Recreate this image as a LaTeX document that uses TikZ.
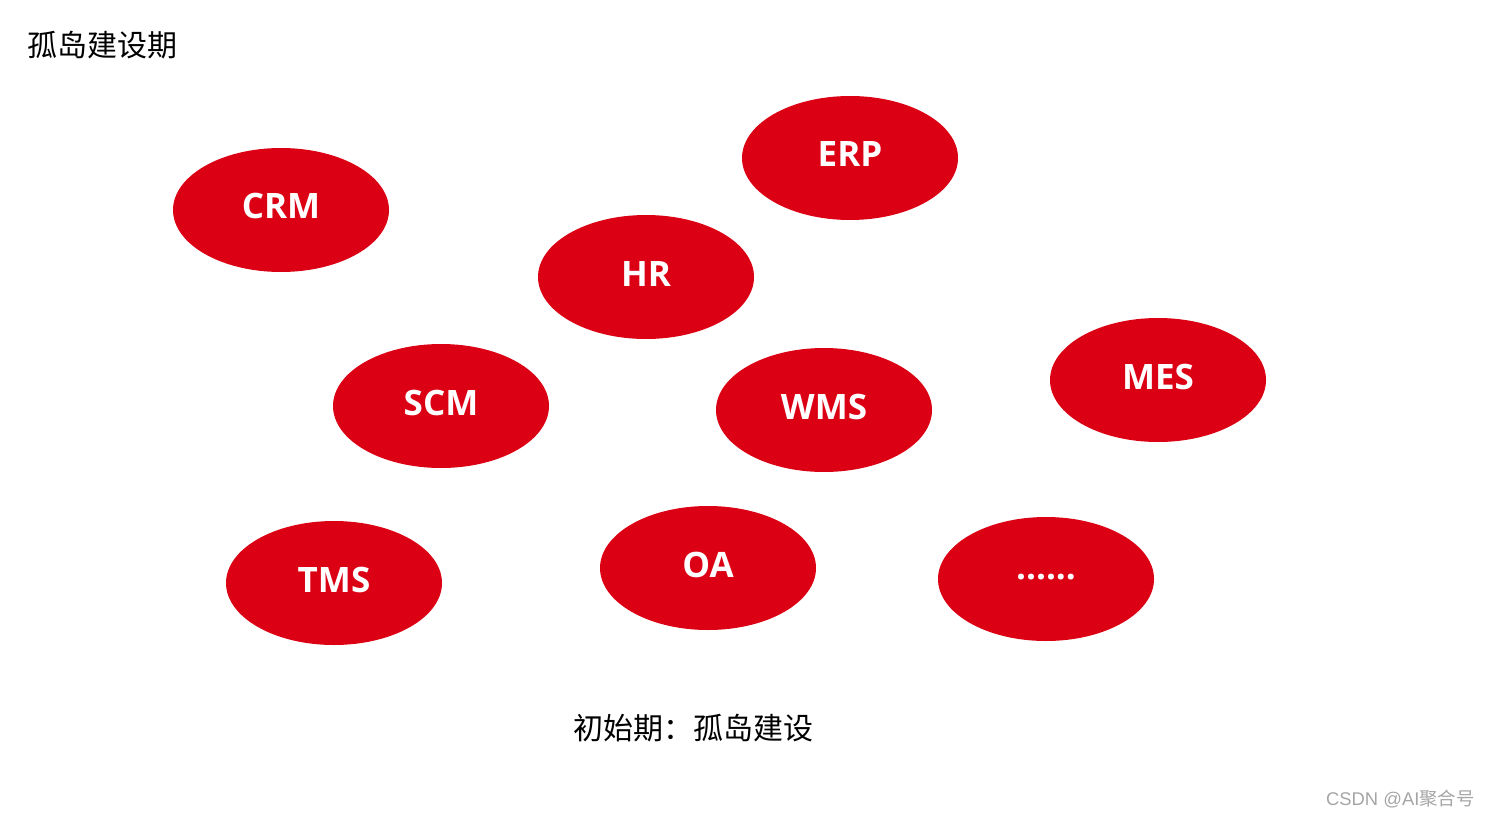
\documentclass[tikz,border=0pt]{standalone}
\usepackage{fontspec}
\setmainfont{Open Sans}
\newfontfamily\cjk{Noto Sans CJK SC}
\newfontfamily\wmfont{Liberation Sans}
\definecolor{island}{RGB}{220,0,20}
\definecolor{soft}{RGB}{165,165,165}
\usetikzlibrary{shapes.geometric}

\begin{document}
\begin{tikzpicture}[x=0.5pt, y=-0.5pt,
    sys/.style={ellipse, fill=island, minimum width=108pt, minimum height=62pt,
      inner sep=0pt, text=white, font=\fontsize{17.5}{19}\selectfont\bfseries,
      text height=12.5pt, text depth=3.5pt},
    cn/.style={font=\cjk\fontsize{15}{18}\selectfont, inner sep=0pt}]
  \useasboundingbox (0,0) rectangle (1491,818);
  % islands
  \node[sys] (crm) at (281,210) {CRM};
  \node[sys] (erp) at (850,158) {ERP};
  \node[sys] (hr)  at (646,277) {HR};
  \node[sys] (scm) at (441,406) {SCM};
  \node[sys] (wms) at (824,410) {WMS};
  \node[sys] (mes) at (1158,380) {MES};
  \node[sys] (tms) at (334,583) {TMS};
  \node[sys] (oa)  at (708,568) {OA};
  \node[sys] (more) at (1046,579) {\raisebox{4.2pt}{......}};
  % texts
  \node[cn, anchor=west] (title) at (27,45) {孤岛建设期};
  \node[cn] (caption) at (693,728) {初始期：孤岛建设};
  \node[anchor=east, text=soft, inner sep=0pt, font=\wmfont\fontsize{9.2}{11}\selectfont] (mark) at (1475,799) {CSDN @AI{\cjk 聚合号}};
\end{tikzpicture}
\end{document}
